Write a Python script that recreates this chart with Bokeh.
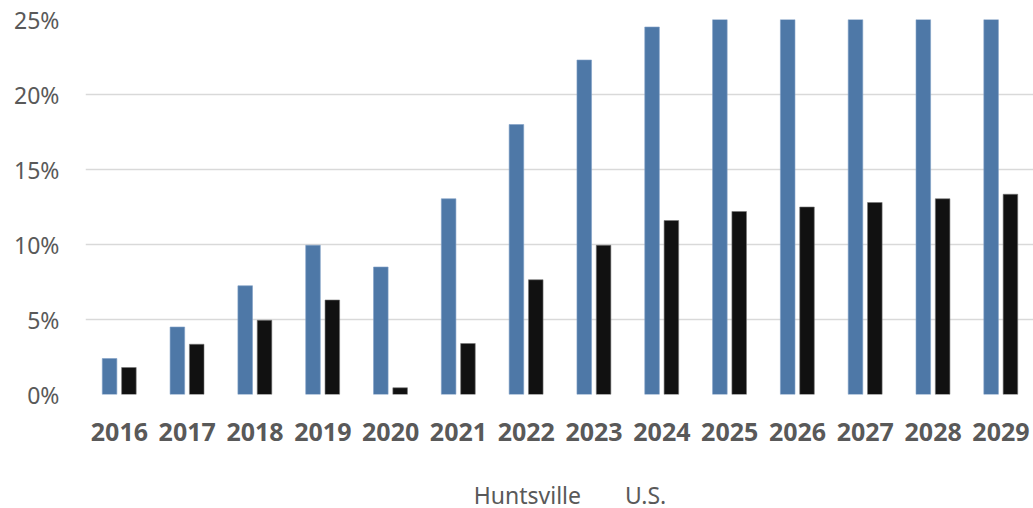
from bokeh.plotting import figure
from bokeh.layouts import column
from bokeh.models import (ColumnDataSource, FixedTicker, PrintfTickFormatter,
                          Legend, LegendItem, Range1d)
from bokeh.embed import file_html
from bokeh.resources import INLINE

# Annual change, percent
years = ["2016", "2017", "2018", "2019", "2020", "2021", "2022",
         "2023", "2024", "2025", "2026", "2027", "2028", "2029"]
huntsville = [2.4, 4.5, 7.25, 9.95, 8.5, 13.05, 18.0,
              22.3, 24.5, 26.3, 27.9, 29.4, 30.8, 32.1]
us = [1.8, 3.35, 4.95, 6.3, 0.45, 3.4, 7.65,
      9.95, 11.6, 12.2, 12.5, 12.8, 13.05, 13.35]
series_names = ["Huntsville", "U.S."]
y_ticks = [0, 5, 10, 15, 20, 25]

BLUE = "#4E78A7"
BLACK = "#111111"
GRAY_TEXT = "#595959"
FONT = "Noto Sans"

idx = list(range(len(years)))
src = ColumnDataSource(dict(
    x_h=[i - 0.145 for i in idx],
    x_u=[i + 0.14 for i in idx],
    huntsville=huntsville,
    us=us,
))

# --- main bar chart -------------------------------------------------------
p = figure(width=1033, height=470, output_backend="svg", toolbar_location=None,
           x_range=Range1d(-0.5, 13.48), y_range=Range1d(0, 25),
           min_border_left=85, min_border_right=0, min_border_top=19,
           min_border_bottom=76)
p.outline_line_color = None
p.background_fill_color = "white"
p.border_fill_color = "white"

p.vbar(x="x_h", top="huntsville", width=0.215, source=src,
       fill_color=BLUE, line_color="#7FA0C6", line_width=0.6)
p.vbar(x="x_u", top="us", width=0.215, source=src,
       fill_color=BLACK, line_color="#777777", line_width=0.6)

p.xaxis.ticker = FixedTicker(ticks=idx)
p.xaxis.major_label_overrides = {i: y for i, y in zip(idx, years)}
p.xaxis.axis_line_color = None
p.xaxis.major_tick_line_color = None
p.xaxis.minor_tick_line_color = None
p.xaxis.major_label_text_font = FONT
p.xaxis.major_label_text_font_style = "bold"
p.xaxis.major_label_text_font_size = "25px"
p.xaxis.major_label_text_color = GRAY_TEXT
p.xaxis.major_label_standoff = 22
p.xgrid.grid_line_color = None

p.yaxis.ticker = FixedTicker(ticks=y_ticks)
p.yaxis.formatter = PrintfTickFormatter(format="%d%%")
p.yaxis.axis_line_color = None
p.yaxis.major_tick_line_color = None
p.yaxis.minor_tick_line_color = None
p.yaxis.major_label_text_font = FONT
p.yaxis.major_label_text_font_size = "23px"
p.yaxis.major_label_text_color = GRAY_TEXT
p.yaxis.major_label_standoff = 20
p.ygrid.ticker = FixedTicker(ticks=y_ticks)
p.ygrid.grid_line_color = "#D9D9D9"
p.ygrid.grid_line_width = 1.6

# --- legend strip under the chart ------------------------------------------
leg = figure(width=1033, height=38, output_backend="svg", toolbar_location=None,
             x_range=Range1d(0, 1), y_range=Range1d(0, 1),
             x_axis_type=None, y_axis_type=None,
             min_border_left=37, min_border_right=0, min_border_top=12,
             min_border_bottom=0)
leg.outline_line_color = None
leg.xgrid.grid_line_color = None
leg.ygrid.grid_line_color = None
key_h = leg.vbar(x=[], top=[], width=0.1, fill_color=BLUE, line_color=BLUE)
key_u = leg.vbar(x=[], top=[], width=0.1, fill_color=BLACK, line_color=BLACK)

legend = Legend(items=[LegendItem(label=series_names[0], renderers=[key_h]),
                       LegendItem(label=series_names[1], renderers=[key_u])],
                orientation="horizontal", location="center")
legend.border_line_color = None
legend.background_fill_alpha = 0
legend.padding = 0
legend.margin = 0
legend.spacing = 22
legend.glyph_width = 13
legend.glyph_height = 13
legend.label_standoff = 9
legend.label_text_font = FONT
legend.label_text_font_size = "23px"
legend.label_text_color = GRAY_TEXT
leg.add_layout(legend, "center")

layout = column(p, leg, spacing=0)
open("out.html", "w").write(file_html(layout, INLINE))
